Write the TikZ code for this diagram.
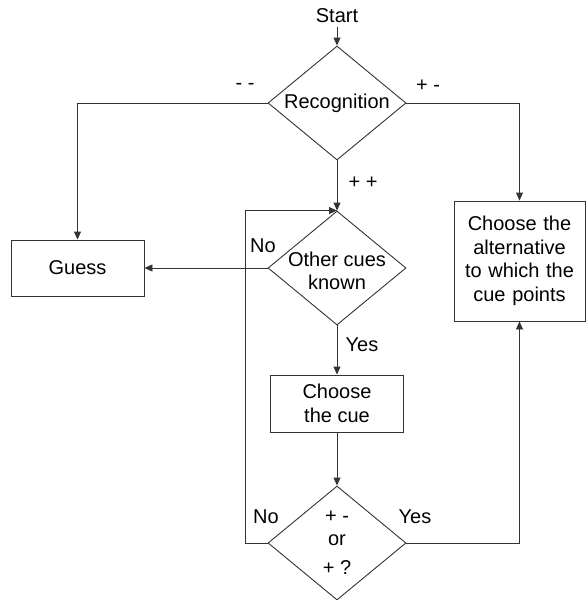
\documentclass[tikz,border=0pt]{standalone}
\usepackage{fontspec}
\setmainfont{Liberation Sans}
\usetikzlibrary{shapes.geometric,arrows.meta}
\begin{document}
\begin{tikzpicture}[x=1pt,y=-1pt,
  every node/.style={font=\fontsize{20}{23.5}\selectfont, align=center},
  line/.style={draw=black!80, line width=0.9pt},
  arr/.style={line, -{Triangle[length=8pt,width=7pt]}},
  dia/.style={diamond, line, inner sep=0pt, minimum width=138pt, minimum height=114pt},
  box/.style={rectangle, line, inner sep=0pt},
  lbl/.style={inner sep=1pt}
]
\useasboundingbox (0,0) rectangle (586,600);

% decision diamonds (text placed separately so the shapes keep a fixed size)
\node[dia] (rec)   at (337,103) {};
\node[dia] (other) at (337,268) {};
\node[dia] (test)  at (337,543) {};
\node at (337,103) {Recognition};
\node at (337,271) {Other cues\\known};
\node at (337,517) {+ -};
\node at (337,540) {or};
\node at (337,568) {+ ?};

% action boxes
\node[box, minimum width=133pt, minimum height=56pt] (guess) at (77.5,268) {Guess};
\node[box, minimum width=131pt, minimum height=120pt, text width=128pt] (alt) at (519.5,261)
  {Choose the\\alternative\\to which the\\cue points};
\node[box, minimum width=133pt, minimum height=57pt] (cue) at (337,403.5) {Choose\\the cue};

% start
\node (start) at (337,16) {Start};

% connectors
\draw[arr] (start) -- (rec.north);
\draw[arr] (rec.west) -| (guess.north);
\draw[arr] (rec.east) -| (alt.north);
\draw[arr] (rec.south) -- (other.north);
\draw[arr] (other.west) -- (guess.east);
\draw[arr] (other.south) -- (cue.north);
\draw[arr] (cue.south) -- (test.north);
\draw[arr] (test.east) -| (alt.south);
\coordinate (loop) at (245,543);
\draw[arr] (test.west) -- (loop) |- (other.north);

% branch labels
\node[lbl] at (245,86) {- -};
\node[lbl] at (428,86) {+ -};
\node[lbl] at (363,183) {+ +};
\node[lbl] at (263,246) {No};
\node[lbl] at (362,345) {Yes};
\node[lbl] at (266,517) {No};
\node[lbl] at (415,517) {Yes};
\end{tikzpicture}
\end{document}
